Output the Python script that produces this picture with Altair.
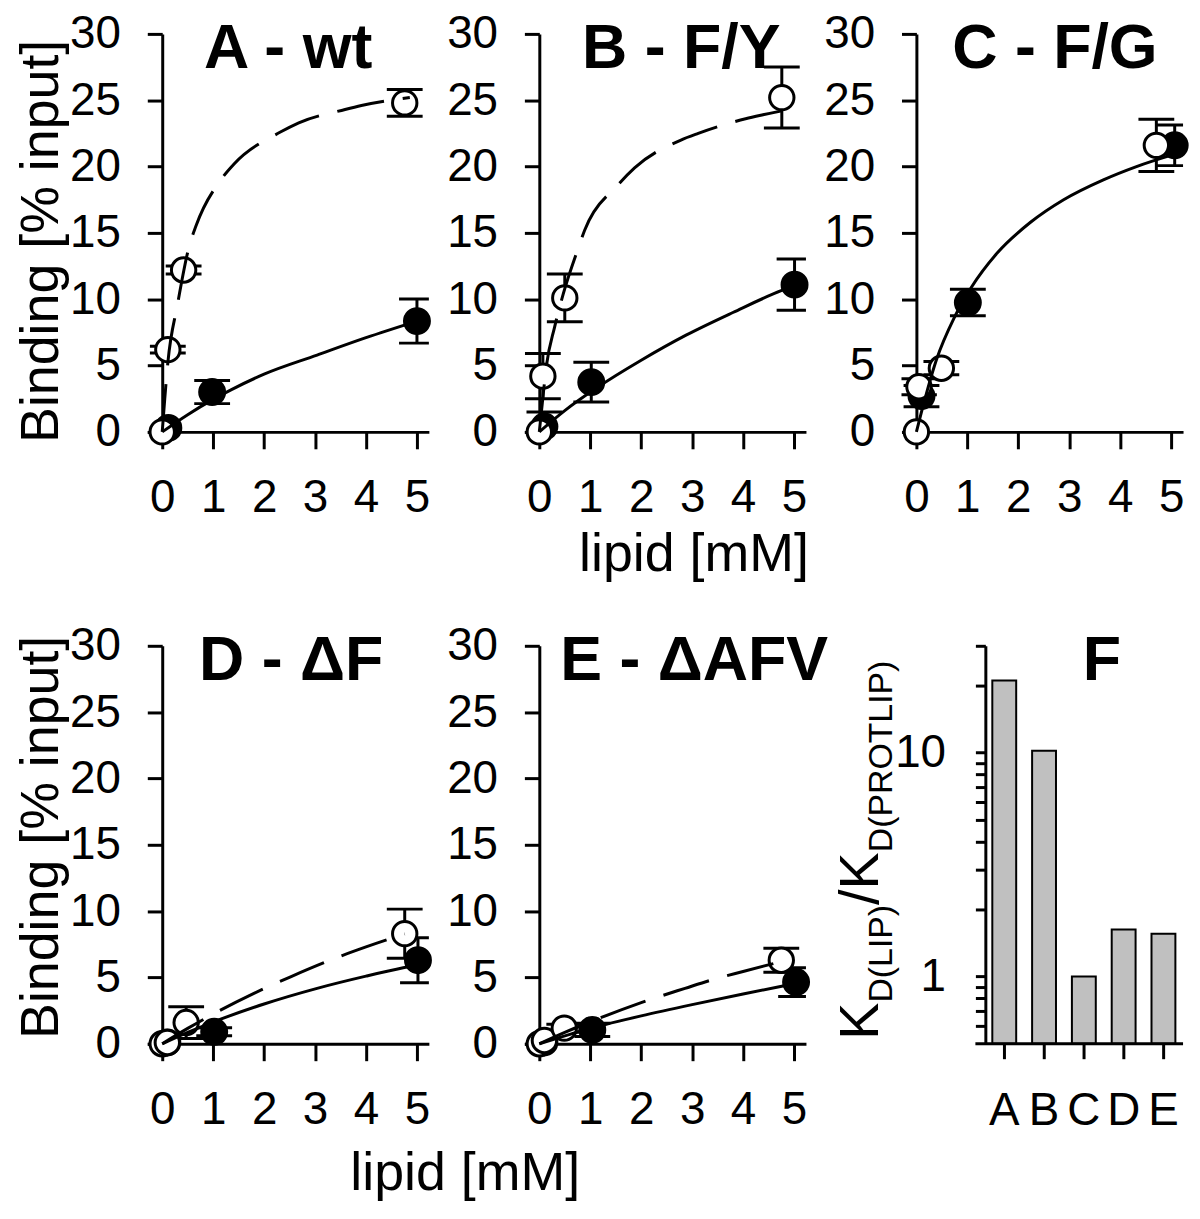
import altair as alt
import pandas as pd

FONT = "Liberation Sans"

# ---------------- data ----------------
# Panel A - wt
A_open_x = [0.0, 0.11, 0.42, 4.76]
A_open_y = [0.0, 6.2, 12.2, 24.8]
A_open_err = [0.0, 0.25, 0.3, 1.0]
A_fill_x = [0.12, 0.98, 5.0]
A_fill_y = [0.3, 3.0, 8.35]
A_fill_err = [0.0, 0.87, 1.66]
A_dash_x = [0, 0.05, 0.11, 0.3, 0.53, 0.66, 1.15, 1.41, 2.32, 2.68, 3.59, 3.91, 4.86]
A_dash_y = [0, 2.5, 5.2, 9.6, 14.0, 15.5, 19.0, 20.2, 22.6, 23.3, 24.3, 24.6, 25.2]
A_solid_x = [0, 0.5, 1.0, 1.35, 2.0, 3.04, 4.0, 5.0]
A_solid_y = [0, 1.3, 2.45, 3.17, 4.35, 5.79, 7.1, 8.35]

# Panel B - F/Y
B_open_x = [0.0, 0.07, 0.5, 4.76]
B_open_y = [0.0, 4.2, 10.1, 25.2]
B_open_err = [0.0, 1.7, 1.8, 2.3]
B_fill_x = [0.1, 1.02, 5.01]
B_fill_y = [0.4, 3.75, 11.1]
B_fill_err = [1.1, 1.5, 1.93]
B_dash_x = [0, 0.06, 0.14, 0.3, 0.47, 0.76, 0.89, 1.54, 1.87, 2.78, 3.12, 4.05, 4.39, 5.02]
B_dash_y = [0, 2.2, 5.0, 7.9, 10.4, 13.8, 15.2, 18.6, 19.9, 22.0, 22.5, 23.6, 23.9, 24.4]
B_solid_x = [0, 0.5, 1.12, 2.0, 2.88, 3.8, 4.76, 5.0]
B_solid_y = [0, 1.6, 3.3, 5.4, 7.29, 9.0, 10.66, 11.0]

# Panel C - F/G
C_open_x = [0.0, 0.05, 0.49, 4.71]
C_open_y = [0.0, 3.4, 4.8, 21.6]
C_open_err = [0.0, 0.6, 0.5, 1.97]
C_fill_x = [0.1, 1.01, 5.07]
C_fill_y = [2.7, 9.75, 21.6]
C_fill_err = [0.8, 1.0, 1.53]
C_solid_x = [0, 0.1, 0.39, 0.75, 1.08, 1.59, 2.24, 2.89, 3.67, 4.32, 5.04]
C_solid_y = [0, 1.5, 5.4, 8.66, 10.9, 13.5, 15.8, 17.5, 19.0, 20.0, 20.9]

# Panel D - dF
D_open_x = [0.0, 0.1, 0.47, 4.76]
D_open_y = [0.0, 0.1, 1.6, 8.3]
D_open_err = [0.0, 0.0, 1.2, 1.85]
D_fill_x = [0.1, 1.02, 5.02]
D_fill_y = [0.1, 0.9, 6.3]
D_fill_err = [0.0, 0.3, 1.7]
D_dash_x = [0, 0.5, 1.0, 1.8, 2.52, 3.43, 4.0, 4.76]
D_dash_y = [0, 1.16, 2.24, 3.8, 5.05, 6.5, 7.3, 8.28]
D_solid_x = [0, 0.5, 1.0, 2.0, 3.04, 4.0, 4.73, 5.0]
D_solid_y = [0, 0.86, 1.64, 3.0, 4.18, 5.1, 5.73, 5.93]

# Panel E - dAFV
E_open_x = [0.0, 0.1, 0.49, 4.75]
E_open_y = [0.0, 0.25, 1.18, 6.3]
E_open_err = [0.0, 0.0, 0.3, 0.9]
E_fill_x = [0.1, 1.04, 5.04]
E_fill_y = [0.1, 1.05, 4.65]
E_fill_err = [0.0, 0.5, 1.08]
E_dash_x = [0, 0.5, 1.0, 2.0, 2.86, 3.44, 4.0, 4.75]
E_dash_y = [0, 0.86, 1.65, 3.1, 4.18, 4.88, 5.45, 6.2]
E_solid_x = [0, 1.0, 2.0, 3.0, 4.0, 4.71, 5.04]
E_solid_y = [0, 1.15, 2.1, 2.95, 3.75, 4.3, 4.55]

# Panel F
F_cat = ["A", "B", "C", "D", "E"]
F_ratio = [21.0, 10.2, 1.0, 1.62, 1.55]

X_TICKS = [0, 1, 2, 3, 4, 5]
Y_TICKS = [0, 5, 10, 15, 20, 25, 30]
F_TICKS = [0.6, 0.7, 0.8, 0.9, 1, 2, 3, 4, 5, 6, 7, 8, 9, 10, 20, 30]

# ---------------- layout / style ----------------
W, H = 283, 400
XDOM = [-0.293, 5.234]
YOFF = 15          # y-axis sits at x = 0, 15 px inside the plot's left edge
LW = 3
CAP = 36
TITLE_SIZE = 63
TITLE_Y = 34


def line_panel(ox, oy, oe, fx, fy, fe, dx, dy, sx, sy, title, title_x,
               ytitle=None, ytitle_y=None, xtitle=None, xtitle_x=None, xtitle_y=None):
    xkw = dict(values=X_TICKS, tickSize=17, labelPadding=27, format="d")
    if xtitle:
        xkw.update(title=xtitle, titleX=xtitle_x, titleY=xtitle_y,
                   titleAlign="center", titleBaseline="alphabetic")
    else:
        xkw["title"] = None
    ykw = dict(values=Y_TICKS, tickSize=15, labelPadding=27, offset=-YOFF, format="d")
    if ytitle:
        ykw.update(title=ytitle, titleX=-105.7, titleY=ytitle_y, titleAngle=270,
                   titleAlign="center", titleBaseline="alphabetic")
    else:
        ykw["title"] = None
    xs = alt.Scale(domain=XDOM, nice=False, zero=False)
    ys = alt.Scale(domain=[0, 30], nice=False, zero=False)
    X = alt.X("x:Q", scale=xs, axis=alt.Axis(**xkw))

    def Y(f):
        return alt.Y(f, scale=ys, axis=alt.Axis(**ykw))

    odf = pd.DataFrame({"x": ox, "y": oy, "e": oe})
    fdf = pd.DataFrame({"x": fx, "y": fy, "e": fe})
    err = pd.concat([odf, fdf], ignore_index=True)
    err = err[err["e"] > 0].copy()
    err["lo"] = err["y"] - err["e"]
    err["hi"] = err["y"] + err["e"]

    layers = [
        alt.Chart(err).mark_rule(color="black", strokeWidth=LW, clip=True).encode(
            x=X, y=Y("lo:Q"), y2="hi:Q"),
        alt.Chart(err).mark_tick(orient="horizontal", size=CAP, thickness=LW,
                                 color="black", opacity=1, clip=True).encode(x=X, y=Y("lo:Q")),
        alt.Chart(err).mark_tick(orient="horizontal", size=CAP, thickness=LW,
                                 color="black", opacity=1, clip=True).encode(x=X, y=Y("hi:Q")),
        alt.Chart(fdf).mark_circle(fill="black", stroke="black", strokeWidth=2,
                                   size=680, opacity=1).encode(x=X, y=Y("y:Q")),
        alt.Chart(odf).mark_circle(fill="white", stroke="black", strokeWidth=LW,
                                   size=600, opacity=1).encode(x=X, y=Y("y:Q")),
    ]
    if dx is not None:
        layers.append(
            alt.Chart(pd.DataFrame({"x": dx, "y": dy})).mark_line(
                color="black", strokeWidth=LW, strokeDash=[48, 19],
                interpolate="monotone").encode(x=X, y=Y("y:Q")))
    layers.append(
        alt.Chart(pd.DataFrame({"x": sx, "y": sy})).mark_line(
            color="black", strokeWidth=LW, interpolate="monotone").encode(x=X, y=Y("y:Q")))
    layers.append(
        alt.Chart(pd.DataFrame({"t": [title]})).mark_text(
            font=FONT, fontSize=TITLE_SIZE, fontWeight="bold", align="left",
            baseline="alphabetic", color="black").encode(
            text="t:N", x=alt.value(title_x), y=alt.value(TITLE_Y)))
    return alt.layer(*layers).properties(width=W, height=H)


pA = line_panel(A_open_x, A_open_y, A_open_err, A_fill_x, A_fill_y, A_fill_err,
                A_dash_x, A_dash_y, A_solid_x, A_solid_y, "A - wt", 57,
                ytitle="Binding [% input]", ytitle_y=208)
pB = line_panel(B_open_x, B_open_y, B_open_err, B_fill_x, B_fill_y, B_fill_err,
                B_dash_x, B_dash_y, B_solid_x, B_solid_y, "B - F/Y", 58,
                xtitle="lipid [mM]", xtitle_x=170, xtitle_y=139)
pC = line_panel(C_open_x, C_open_y, C_open_err, C_fill_x, C_fill_y, C_fill_err,
                None, None, C_solid_x, C_solid_y, "C - F/G", 51)
pD = line_panel(D_open_x, D_open_y, D_open_err, D_fill_x, D_fill_y, D_fill_err,
                D_dash_x, D_dash_y, D_solid_x, D_solid_y, "D - \u0394F", 52,
                ytitle="Binding [% input]", ytitle_y=192,
                xtitle="lipid [mM]", xtitle_x=319, xtitle_y=146)
pE = line_panel(E_open_x, E_open_y, E_open_err, E_fill_x, E_fill_y, E_fill_err,
                E_dash_x, E_dash_y, E_solid_x, E_solid_y, "E - \u0394AFV", 36)

# ---------------- panel F ----------------
F_YAX = 84.3     # y-axis position inside the panel
fdf = pd.DataFrame({"cat": F_cat, "v": F_ratio})
bars = alt.Chart(fdf).mark_bar(fill="#c0c0c0", stroke="black", strokeWidth=2).encode(
    x=alt.X("cat:N", sort=F_cat,
            scale=alt.Scale(range=[91.3, 275.3], paddingInner=0.4, paddingOuter=0),
            axis=alt.Axis(domain=False, tickSize=15, labelPadding=30, labelAngle=0, title=None)),
    y=alt.Y("v:Q", scale=alt.Scale(type="log", domain=[0.5, 30], nice=False),
            axis=alt.Axis(values=F_TICKS,
                          labelExpr="datum.value == 1 ? '1' : (datum.value == 10 ? '10' : '')",
                          tickSize=10, labelPadding=30, offset=-F_YAX, title=None)),
    y2=alt.datum(0.5),
)
one = pd.DataFrame({"a": [0]})
xline = alt.Chart(one).mark_rule(color="black", strokeWidth=LW).encode(
    x=alt.value(F_YAX - 10), x2=alt.value(W), y=alt.value(H))


def ytxt(t, size, xv, yv):
    return alt.Chart(pd.DataFrame({"t": [t]})).mark_text(
        font=FONT, fontSize=size, angle=270, align="left", baseline="alphabetic",
        color="black").encode(text="t:N", x=alt.value(xv), y=alt.value(yv))


ftitle = alt.Chart(pd.DataFrame({"t": ["F"]})).mark_text(
    font=FONT, fontSize=TITLE_SIZE, fontWeight="bold", align="left", baseline="alphabetic",
    color="black").encode(text="t:N", x=alt.value(F_YAX + 98), y=alt.value(TITLE_Y))

pF = alt.layer(
    bars, xline,
    ytxt("K", 56, F_YAX - 108, 396),
    ytxt("D(LIP)", 34, F_YAX - 94, 358.6),
    ytxt("/K", 56, F_YAX - 108, 260.4),
    ytxt("D(PROTLIP)", 34, F_YAX - 94, 207.5),
    ftitle,
).properties(width=W, height=H)

chart = alt.concat(
    pA, pB, pC, pD, pE, pF,
    columns=3,
    spacing={"row": 215, "column": 96},
    bounds="flush",
).properties(
    padding={"left": 6, "top": 0, "right": 0, "bottom": 0}
).configure_view(stroke=None).configure_axis(
    domainColor="black", domainWidth=LW, tickColor="black", tickWidth=LW,
    labelColor="black", labelFont=FONT, labelFontSize=46,
    titleFont=FONT, titleFontSize=54, titleFontWeight="normal", titleColor="black",
    grid=False, labelFlush=False, labelOverlap=False,
)

chart.save("out.html", embed_options={"renderer": "svg", "actions": False})
